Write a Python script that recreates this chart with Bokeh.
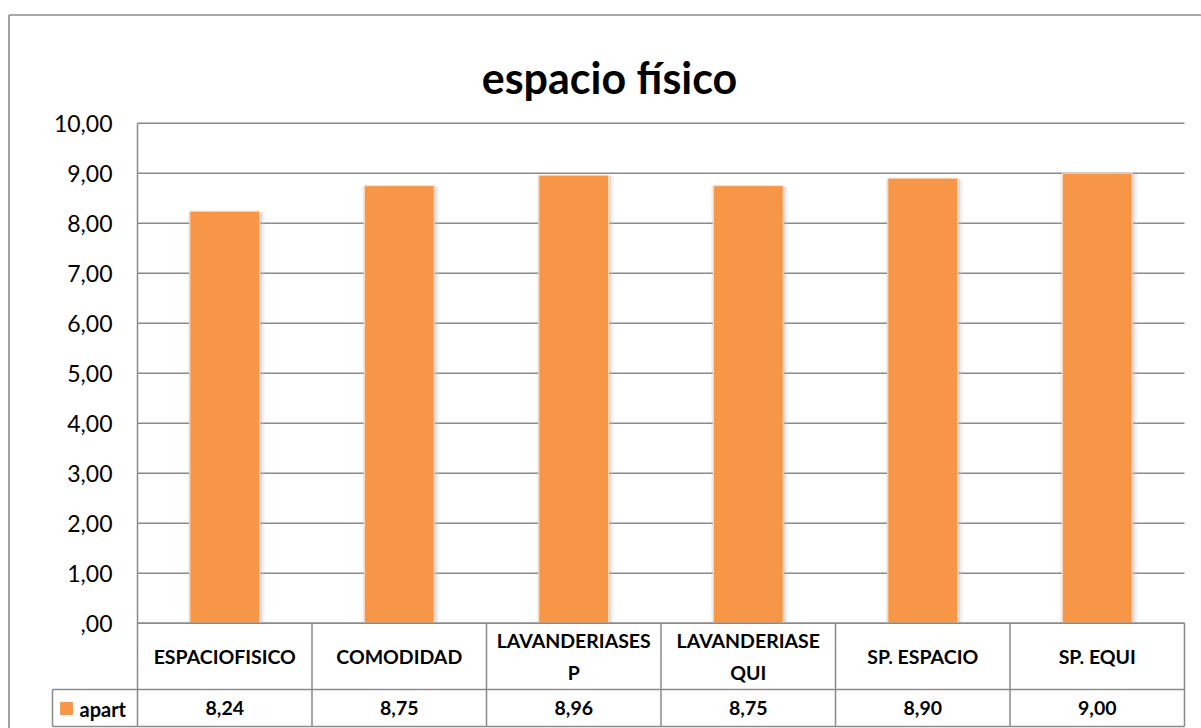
from bokeh.plotting import figure
from bokeh.models import Range1d, ColumnDataSource
from bokeh.core.properties import value
from bokeh.embed import file_html
from bokeh.resources import INLINE

# ---------------- data ----------------
title_text = "espacio físico"
categories = ["ESPACIOFISICO", "COMODIDAD", "LAVANDERIASES\nP", "LAVANDERIASE\nQUI", "SP. ESPACIO", "SP. EQUI"]
series_name = "apart"
values = [8.24, 8.75, 8.96, 8.75, 8.90, 9.00]
y_ticks = [0, 1, 2, 3, 4, 5, 6, 7, 8, 9, 10]
y_tick_labels = [",00", "1,00", "2,00", "3,00", "4,00", "5,00", "6,00", "7,00", "8,00", "9,00", "10,00"]

# ---------------- layout constants (pixels) ----------------
W, H = 1201, 728
PX0, PXU = 137.0, 174.5     # pixel of x=0, pixels per category
PY0, PYU = 622.7, 50.0      # pixel of y=0, pixels per unit

def X(px):
    return (px - PX0) / PXU

def Y(py):
    return (PY0 - py) / PYU

N = len(categories)
FONT = "Lato"
GRID = "#8a8a8a"
BAR = "#F79646"

p = figure(width=W, height=H, x_range=Range1d(X(0), X(W)), y_range=Range1d(Y(H), Y(0)),
           output_backend="svg", toolbar_location=None, min_border=0,
           x_axis_type=None, y_axis_type=None, title=None)
p.grid.visible = False
p.outline_line_color = None
p.background_fill_color = "white"
p.border_fill_color = "white"

# outer chart border (extends past window right/bottom)
p.segment(x0=[X(8.5), X(8.5)], y0=[Y(14.5), Y(14.5)], x1=[X(W + 20), X(8.5)], y1=[Y(14.5), Y(H + 20)],
          line_color=GRID, line_width=1.6)

# gridlines
p.segment(x0=[0] * len(y_ticks), x1=[N] * len(y_ticks), y0=y_ticks, y1=y_ticks,
          line_color=GRID, line_width=1.5)

# bars
xs = [i + 0.5 for i in range(N)]
src = ColumnDataSource(dict(x=xs, top=values, cat=categories,
                            lab=[f"{v:.2f}".replace(".", ",") for v in values]))
p.vbar(x=[x + 1.5 / PXU for x in xs], top=[v - 0.02 for v in values], bottom=0, width=0.4 + 7 / PXU,
       fill_color="#c8c8c8", fill_alpha=0.25, line_color=None)
p.vbar(x=[x + 1.0 / PXU for x in xs], top=[v - 0.01 for v in values], bottom=0, width=0.4 + 3 / PXU,
       fill_color="#b0b0b0", fill_alpha=0.3, line_color=None)
p.vbar(x="x", top="top", bottom=0, width=0.4, source=src,
       fill_color=BAR, line_color="#fcdcc2", line_width=1)

# y tick labels
p.text(x=[X(112)] * len(y_ticks), y=y_ticks, text=y_tick_labels, text_align="right",
       text_baseline="middle", text_font=value(FONT), text_font_size="23px", text_color="#000000")

# axis / table lines
y_hdr = Y(689)
y_bot = Y(726)
x_leg = X(52)
p.segment(x0=[0], y0=[10], x1=[0], y1=[y_bot], line_color=GRID, line_width=1.5)
p.segment(x0=[0, x_leg, x_leg], x1=[N, N, N], y0=[0, y_hdr, y_bot], y1=[0, y_hdr, y_bot],
          line_color=GRID, line_width=1.5)
p.segment(x0=list(range(1, N + 1)), x1=list(range(1, N + 1)), y0=[0] * N, y1=[y_bot] * N,
          line_color=GRID, line_width=1.5)
p.segment(x0=[x_leg], x1=[x_leg], y0=[y_hdr], y1=[y_bot], line_color=GRID, line_width=1.5)

# category labels (header row)
p.text(x="x", y=y_hdr / 2, text="cat", source=src, text_align="center", text_baseline="middle",
       text_font=value(FONT), text_font_style="bold", text_font_size="19.5px", text_color="#000000",
       text_line_height=1.4)

# value row
p.text(x="x", y=(y_hdr + y_bot) / 2, text="lab", source=src, text_align="center",
       text_baseline="middle", text_font=value(FONT), text_font_style="bold",
       text_font_size="19.5px", text_color="#000000")

# legend key in table
p.scatter(x=[X(66)], y=[Y(708)], marker="square", size=12, fill_color=BAR, line_color="#e46c0a",
          line_width=0.5)
p.text(x=[X(79)], y=[Y(708)], text=[series_name], text_align="left", text_baseline="middle",
       text_font=value(FONT), text_font_style="bold", text_font_size="20px", text_color="#000000")

# title
p.text(x=[X(609)], y=[Y(77)], text=[title_text], text_align="center", text_baseline="alphabetic",
       text_font=value(FONT), text_font_style="bold", text_font_size="43px", text_color="#000000")

open("out.html", "w").write(file_html(p, INLINE))
